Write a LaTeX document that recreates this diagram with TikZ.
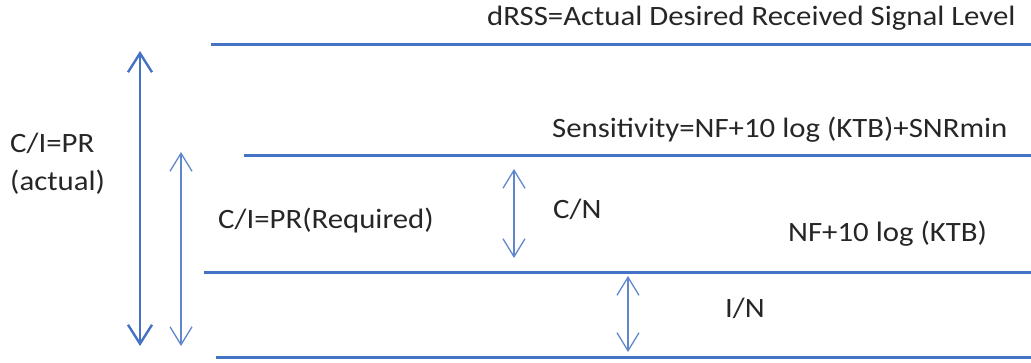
\documentclass[tikz,border=0pt]{standalone}
\usepackage{fontspec}
\setmainfont{Carlito}
\usetikzlibrary{arrows.meta}
\definecolor{lb}{RGB}{68,114,196}
\newcommand{\wtxt}[1]{\scalebox{1.1}[1]{#1}}
\begin{document}
\begin{tikzpicture}[x=1pt,y=-1pt,
  level/.style={draw=lb,line width=3pt},
  bigarr/.style={draw=lb,line width=2.6pt,{Straight Barb[length=19pt,width=24pt,line width=2.4pt]}-{Straight Barb[length=19pt,width=24pt,line width=2.4pt]}},
  thinarr/.style={draw=lb!85,line width=1.3pt,{Straight Barb[length=18pt,width=22pt,line width=1.3pt]}-{Straight Barb[length=18pt,width=22pt,line width=1.3pt]}},
  lbl/.style={inner sep=0pt,font=\fontsize{28}{33}\selectfont,text=black!85,anchor=base west}]
\useasboundingbox (0,0) rectangle (1031,362);
\coordinate (l1a) at (211,44); \coordinate (l1b) at (1031,44);
\coordinate (l2a) at (244,155); \coordinate (l2b) at (1031,155);
\coordinate (l3a) at (204,272); \coordinate (l3b) at (1031,272);
\coordinate (l4a) at (216,357); \coordinate (l4b) at (1031,357);
\draw[level] (l1a) -- (l1b);
\draw[level] (l2a) -- (l2b);
\draw[level] (l3a) -- (l3b);
\draw[level] (l4a) -- (l4b);
\coordinate (a1t) at (140,51); \coordinate (a1b) at (140,346);
\coordinate (a2t) at (181,152); \coordinate (a2b) at (181,346);
\coordinate (a3t) at (514,169); \coordinate (a3b) at (514,258);
\coordinate (a4t) at (628,276); \coordinate (a4b) at (628,352);
\draw[bigarr] (a1t) -- (a1b);
\draw[thinarr] (a2t) -- (a2b);
\draw[thinarr] (a3t) -- (a3b);
\draw[thinarr] (a4t) -- (a4b);
\node[lbl] (t1) at (487,25) {\wtxt{dRSS=Actual Desired Received Signal Level}};
\node[lbl] (t2) at (552,137) {\wtxt{Sensitivity=NF+10 log (KTB)+SNRmin}};
\node[lbl] (t3) at (10,152) {\wtxt{C/I=PR}};
\node[lbl] (t4) at (10,190) {\wtxt{(actual)}};
\node[lbl] (t5) at (218,228) {\wtxt{C/I=PR(Required)}};
\node[lbl] (t6) at (553,218) {\wtxt{C/N}};
\node[lbl] (t7) at (788,241) {\wtxt{NF+10 log (KTB)}};
\node[lbl] (t8) at (725,317) {\wtxt{I/N}};
\end{tikzpicture}
\end{document}
